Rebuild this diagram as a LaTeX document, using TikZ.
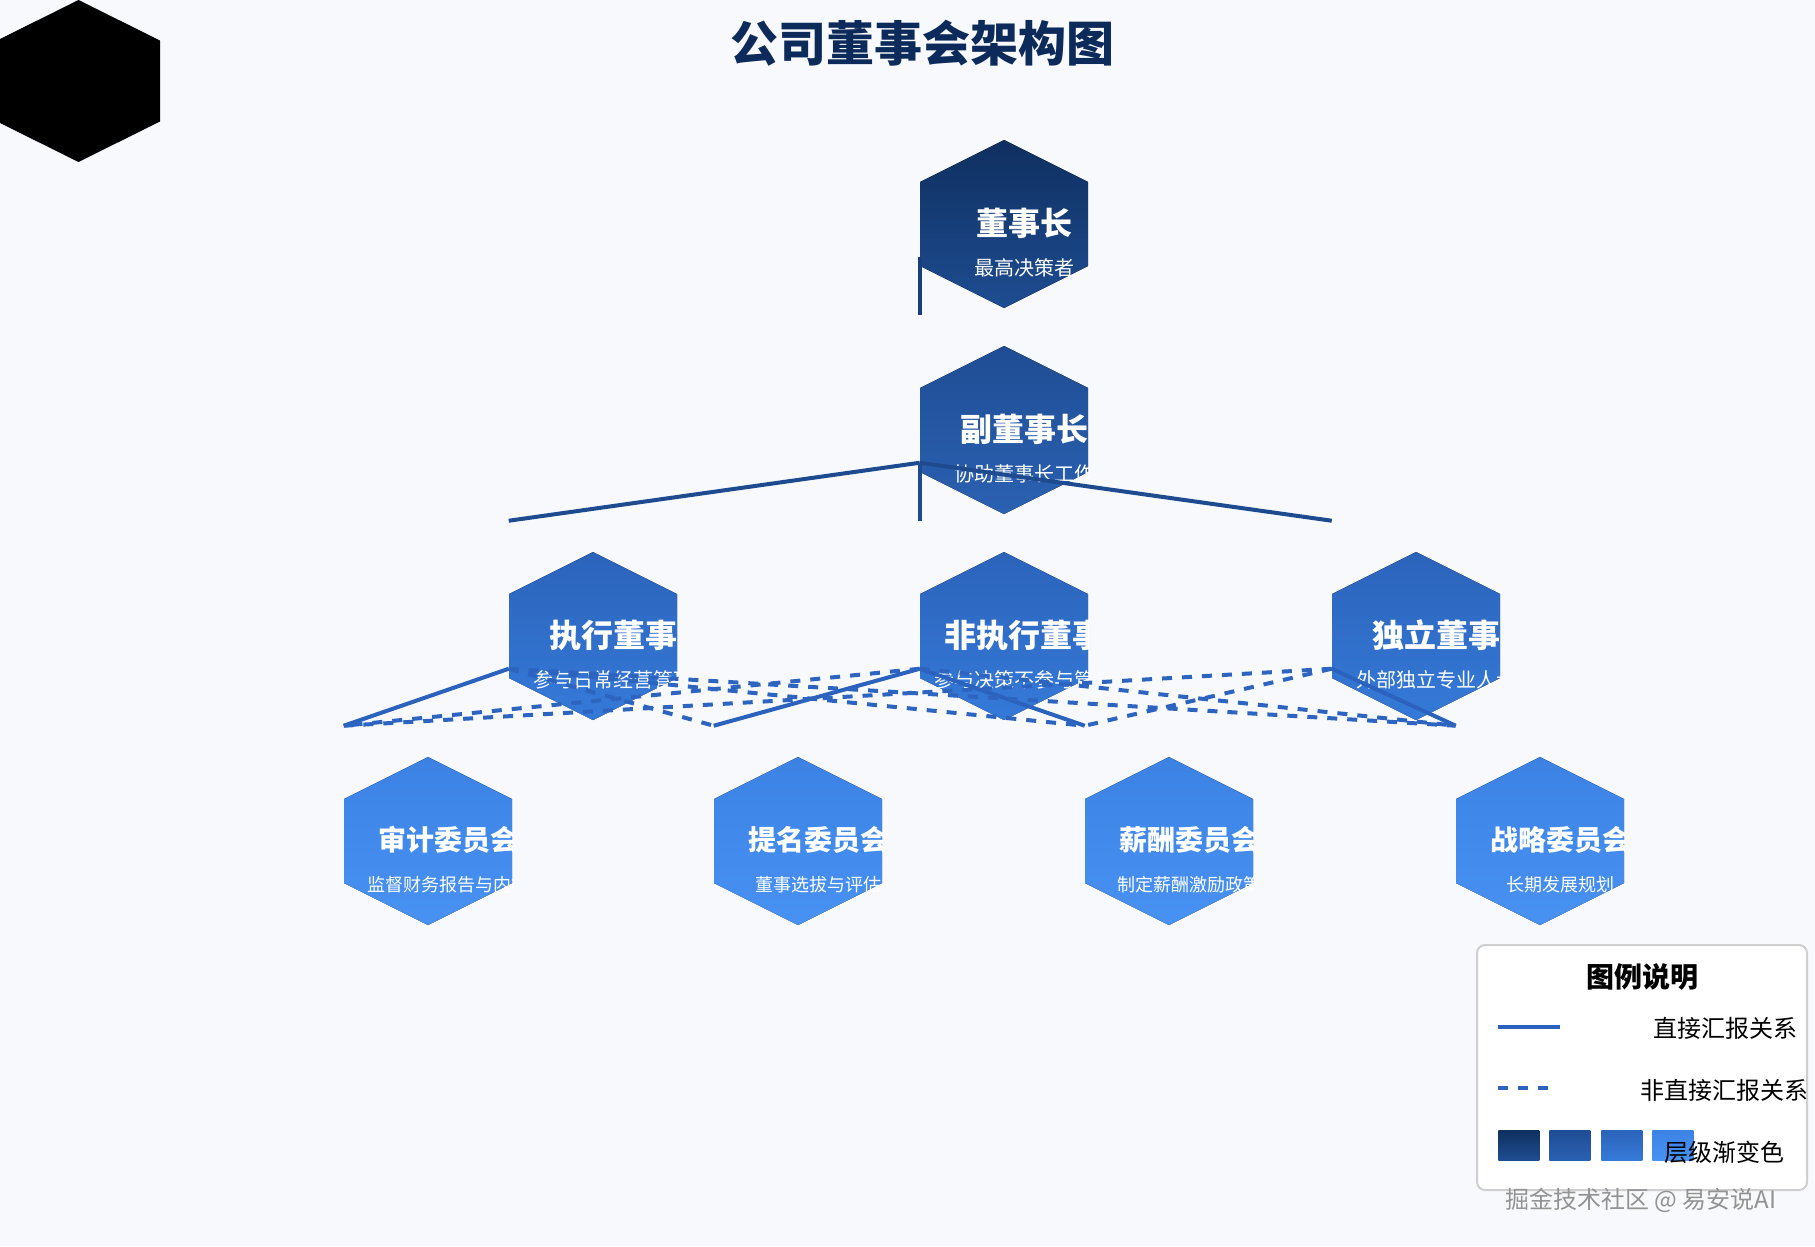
\documentclass[tikz,border=0pt]{standalone}
\usepackage{fontspec}
\setmainfont{Noto Sans CJK SC}
\usetikzlibrary{calc,positioning}
\usepackage{xcolor}

\definecolor{bg}{HTML}{F7F9FC}
\definecolor{titleblue}{HTML}{0D2B5A}
\definecolor{lv0top}{HTML}{0F2F5F}
\definecolor{lv0bot}{HTML}{1E4D92}
\definecolor{lv1top}{HTML}{1F4D94}
\definecolor{lv1bot}{HTML}{2B61B2}
\definecolor{lv2top}{HTML}{2B63BA}
\definecolor{lv2bot}{HTML}{357AD9}
\definecolor{lv3top}{HTML}{3B82E3}
\definecolor{lv3bot}{HTML}{4892F4}
\definecolor{line0}{HTML}{173F7A}
\definecolor{line1}{HTML}{1E4B8F}
\definecolor{line2}{HTML}{2A62BE}
\definecolor{dashblue}{HTML}{2C64C0}
\definecolor{legendline}{HTML}{CFCFCF}

\newcommand{\hexheadfont}{\bfseries\fontsize{24}{28}\selectfont}
\newcommand{\hexdescfont}{\fontsize{15}{18}\selectfont}

\tikzset{
  hexnode/.style n args={4}{minimum width=126pt, minimum height=126pt, inner sep=0pt,
    path picture={
      \fill[top color=#1, bottom color=#2]
        (path picture bounding box.north)
        -- ($(path picture bounding box.north east)!0.25!(path picture bounding box.south east)$)
        -- ($(path picture bounding box.north east)!0.75!(path picture bounding box.south east)$)
        -- (path picture bounding box.south)
        -- ($(path picture bounding box.north west)!0.75!(path picture bounding box.south west)$)
        -- ($(path picture bounding box.north west)!0.25!(path picture bounding box.south west)$)
        -- cycle;
      \node[inner sep=0pt, text=white, font=\hexheadfont] at ($(path picture bounding box.center)+(20,-1)$) {#3};
      \node[inner sep=0pt, text=white, font=\hexdescfont] at ($(path picture bounding box.center)+(20,44)$) {#4};
    }},
  report/.style={line width=3pt, draw=#1},
  indirect/.style={line width=3pt, draw=dashblue, dash pattern=on 7.5pt off 7.5pt},
}

\begin{document}
\begin{tikzpicture}[x=0.75pt,y=-0.75pt]
\useasboundingbox (0,0) rectangle (1815,1246);
\fill[bg] (0,0) rectangle (1815,1246);

% black hexagon in the corner
\fill[black] (78.5,0) -- (160,40.5) -- (160,121.5) -- (78.5,162) -- (-3,121.5) -- (-3,40.5) -- cycle;

\node[font=\bfseries\fontsize{36}{40}\selectfont, text=titleblue] (title) at (922,43) {公司董事会架构图};

% Board levels
\foreach \n/\x/\y/\lv/\head/\desc in {dsz/1004/224/0/董事长/最高决策者, fdsz/1004/430/1/副董事长/协助董事长工作, zx/593/636/2/执行董事/参与日常经营管理, fzx/1004/636/2/非执行董事/参与决策不参与管理, dl/1416/636/2/独立董事/外部独立专业人士} {
    \node[hexnode={lv\lv top}{lv\lv bot}{\head}{\desc}] (\n) at (\x,\y) {};
    \coordinate (\n-o) at ($(\n.north west)+(0,117)$);
    \coordinate (\n-i) at ($(\n.north west)+(0,-31)$);
}

% Committees, smaller text
\renewcommand{\hexheadfont}{\bfseries\fontsize{21}{24}\selectfont}
\renewcommand{\hexdescfont}{\fontsize{13.5}{16}\selectfont}
\foreach \n/\x/\head/\desc in {sj/428/审计委员会/监督财务报告与内控, tm/798/提名委员会/董事选拔与评估, xc/1169/薪酬委员会/制定薪酬激励政策, zl/1540/战略委员会/长期发展规划} {
    \node[hexnode={lv3top}{lv3bot}{\head}{\desc}] (\n) at (\x,841) {};
    \coordinate (\n-i) at ($(\n.north west)+(0,-31)$);
}

% Direct reporting
\draw[report=line0] (dsz-o) -- (fdsz-i);
\foreach \c in {zx,fzx,dl} {
    \draw[report=line1] (fdsz-o) -- (\c-i);
}
\foreach \a/\b in {zx/sj, fzx/tm, fzx/xc, dl/zl} {
    \draw[report=line2] (\a-o) -- (\b-i);
}

% Indirect reporting
\foreach \a/\b in {zx/tm, zx/xc, zx/zl, fzx/sj, fzx/zl, dl/sj, dl/xc} {
    \draw[indirect] (\a-o) -- (\b-i);
}

% Legend
\node[draw=legendline, fill=white, line width=1.5pt, rounded corners=6pt, minimum width=247.5pt, minimum height=183.75pt] (legend) at (1642,1067.5) {};
\node[font=\bfseries\fontsize{21}{24}\selectfont] (legtitle) at (1642,977) {图例说明};
\coordinate (l1a) at (1498,1027);
\coordinate (l1b) at (1560,1027);
\draw[report=line2] (l1a) -- (l1b);
\node[font=\fontsize{18}{20}\selectfont] (leg1) at (1725,1028) {直接汇报关系};
\coordinate (l2a) at (1498,1088);
\coordinate (l2b) at (1550,1088);
\draw[indirect] (l2a) -- (l2b);
\node[font=\fontsize{18}{20}\selectfont] (leg2) at (1724,1090) {非直接汇报关系};
\foreach \i/\x in {0/1498, 1/1549, 2/1601, 3/1652} {
    \node[anchor=north west, inner sep=0pt, minimum width=30.75pt, minimum height=22.5pt, top color=lv\i top, bottom color=lv\i bot] (sq\i) at (\x,1130) {};
}
\node[font=\fontsize{18}{20}\selectfont] (leg3) at (1724,1152) {层级渐变色};

\node[font=\fontsize{18}{20}\selectfont, text=gray!85] (mark) at (1641,1200) {掘金技术社区 @ 易安说AI};

\end{tikzpicture}
\end{document}
